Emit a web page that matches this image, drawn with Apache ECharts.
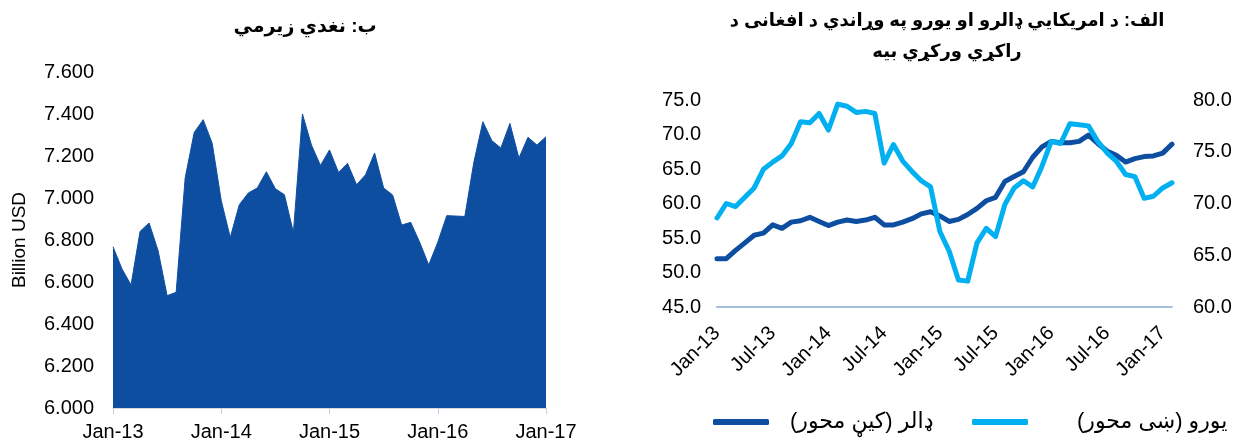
<!DOCTYPE html>
<html>
<head>
<meta charset="utf-8">
<script src="https://cdn.jsdelivr.net/npm/echarts@6/dist/echarts.min.js"></script>
<style>
  html, body { margin: 0; padding: 0; background: #fff; }
  #chart { width: 1240px; height: 440px; }
</style>
</head>
<body>
<div id="chart"></div>
<script>
// month labels, Jan-13 .. Feb-17
const months = [
  'Jan-13','Feb-13','Mar-13','Apr-13','May-13','Jun-13','Jul-13','Aug-13','Sep-13','Oct-13','Nov-13','Dec-13',
  'Jan-14','Feb-14','Mar-14','Apr-14','May-14','Jun-14','Jul-14','Aug-14','Sep-14','Oct-14','Nov-14','Dec-14',
  'Jan-15','Feb-15','Mar-15','Apr-15','May-15','Jun-15','Jul-15','Aug-15','Sep-15','Oct-15','Nov-15','Dec-15',
  'Jan-16','Feb-16','Mar-16','Apr-16','May-16','Jun-16','Jul-16','Aug-16','Sep-16','Oct-16','Nov-16','Dec-16',
  'Jan-17','Feb-17'
];
const reserveMonths = months.slice(0, 49);

// ب: نغدي زيرمي (billion USD)
const reserves = [
  6.768, 6.662, 6.586, 6.841, 6.881, 6.749, 6.535, 6.551, 7.095, 7.312, 7.373, 7.260,
  6.987, 6.812, 6.968, 7.024, 7.048, 7.125, 7.044, 7.016, 6.836, 7.400, 7.252, 7.155,
  7.229, 7.122, 7.165, 7.063, 7.111, 7.214, 7.048, 7.014, 6.871, 6.884, 6.789, 6.681,
  6.789, 6.916, 6.914, 6.912, 7.170, 7.363, 7.273, 7.238, 7.355, 7.190, 7.289, 7.252,
  7.292
];

// الف: AFN per USD (left axis) and per EUR (right axis)
const usdRate = [
  52.0, 52.0, 53.2, 54.3, 55.4, 55.7, 56.9, 56.4, 57.3, 57.5, 58.0, 57.4,
  56.8, 57.3, 57.6, 57.4, 57.6, 58.0, 56.9, 56.9, 57.3, 57.8, 58.5, 58.8,
  58.2, 57.4, 57.7, 58.4, 59.3, 60.4, 60.9, 63.2, 63.9, 64.6, 66.7, 68.2,
  69.0, 68.8, 68.8, 69.0, 69.9, 68.7, 67.6, 67.0, 66.0, 66.5, 66.8, 66.9,
  67.3, 68.6
];
const eurRate = [
  68.6, 70.0, 69.7, 70.6, 71.5, 73.3, 74.0, 74.6, 75.8, 77.9, 77.8, 78.7,
  77.1, 79.6, 79.4, 78.8, 78.9, 78.7, 73.9, 75.7, 74.1, 73.1, 72.2, 71.6,
  67.3, 65.4, 62.6, 62.5, 66.2, 67.6, 66.8, 69.9, 71.5, 72.2, 71.6, 73.6,
  76.0, 75.8, 77.7, 77.6, 77.5, 76.0, 74.9, 74.1, 72.8, 72.6, 70.5, 70.7,
  71.5, 72.0
];

// trailing RLM keeps the closing bracket inside the right-to-left run
const usdName = 'ډالر (کیڼ محور)\u200F';
const eurName = 'یورو (ښی محور)\u200F';

const font = 'Arial, "Liberation Sans", "DejaVu Sans", sans-serif';
const darkBlue = '#0E4EA1';
const lightBlue = '#00B0F0';

const chart = echarts.init(document.getElementById('chart'));

const option = {
  animation: false,
  textStyle: { fontFamily: font, color: '#000' },
  title: [
    {
      text: 'ب: نغدي زيرمي',
      left: 300, top: 12, textAlign: 'center',
      textStyle: { fontFamily: font, fontSize: 19, fontWeight: 'bold', color: '#000' }
    },
    {
      text: 'الف: د امریکایي ډالرو او یورو په وړاندي د افغانی د\nراکړي ورکړي بیه',
      left: 942, top: 1, textAlign: 'center',
      textStyle: { fontFamily: font, fontSize: 18, fontWeight: 'bold', color: '#000', lineHeight: 31 }
    }
  ],
  legend: [
    {
      data: [usdName], left: 708, top: 406,
      icon: 'roundRect', itemWidth: 56, itemHeight: 6,
      textStyle: { fontFamily: font, fontSize: 22, color: '#000', padding: [0, 0, 0, 16] }
    },
    {
      data: [eurName], left: 967, top: 406,
      icon: 'roundRect', itemWidth: 56, itemHeight: 6,
      textStyle: { fontFamily: font, fontSize: 22, color: '#000', padding: [0, 0, 0, 44] }
    }
  ],
  grid: [
    { left: 113, right: 694, top: 72, bottom: 32, outerBoundsMode: 'none' },
    { left: 717, right: 68, top: 100, bottom: 133, outerBoundsMode: 'none' }
  ],
  xAxis: [
    {
      gridIndex: 0, type: 'category', data: reserveMonths, boundaryGap: false,
      axisLine: { lineStyle: { color: '#C9CED6', width: 1.5 } },
      axisTick: { show: true, interval: 11, length: 6, lineStyle: { color: '#C9CED6' } },
      axisLabel: { interval: 11, fontSize: 20, color: '#000', margin: 14, fontFamily: font }
    },
    {
      gridIndex: 1, type: 'category', data: months, boundaryGap: false,
      axisLine: { lineStyle: { color: '#A7BFDE', width: 2 } },
      axisTick: { show: false },
      axisLabel: { interval: 5, rotate: 45, fontSize: 20, color: '#000', margin: 23, fontFamily: font }
    }
  ],
  yAxis: [
    {
      gridIndex: 0, type: 'value', min: 6, max: 7.6, interval: 0.2,
      name: 'Billion USD', nameLocation: 'middle', nameGap: 84,
      nameTextStyle: { fontSize: 19, color: '#000', fontFamily: font },
      axisLine: { show: false }, axisTick: { show: false }, splitLine: { show: false },
      axisLabel: { fontSize: 20, color: '#000', margin: 19, fontFamily: font,
        formatter: v => v.toFixed(3) }
    },
    {
      gridIndex: 1, type: 'value', min: 45, max: 75, interval: 5, position: 'left',
      axisLine: { show: false }, axisTick: { show: false }, splitLine: { show: false },
      axisLabel: { fontSize: 20, color: '#000', margin: 16, fontFamily: font,
        formatter: v => v.toFixed(1) }
    },
    {
      gridIndex: 1, type: 'value', min: 60, max: 80, interval: 5, position: 'right',
      axisLine: { show: false }, axisTick: { show: false }, splitLine: { show: false },
      axisLabel: { fontSize: 20, color: '#000', margin: 21, fontFamily: font,
        formatter: v => v.toFixed(1) }
    }
  ],
  series: [
    {
      name: 'reserves', type: 'line', xAxisIndex: 0, yAxisIndex: 0,
      data: reserves, symbol: 'none',
      lineStyle: { color: darkBlue, width: 1 },
      itemStyle: { color: darkBlue },
      areaStyle: { color: darkBlue, opacity: 1 }
    },
    {
      name: usdName, type: 'line', xAxisIndex: 1, yAxisIndex: 1,
      data: usdRate, symbol: 'none',
      lineStyle: { color: darkBlue, width: 5, cap: 'round', join: 'round' },
      itemStyle: { color: darkBlue }
    },
    {
      name: eurName, type: 'line', xAxisIndex: 1, yAxisIndex: 2,
      data: eurRate, symbol: 'none',
      lineStyle: { color: lightBlue, width: 5, cap: 'round', join: 'round' },
      itemStyle: { color: lightBlue }
    }
  ]
};

chart.setOption(option);
</script>
</body>
</html>
